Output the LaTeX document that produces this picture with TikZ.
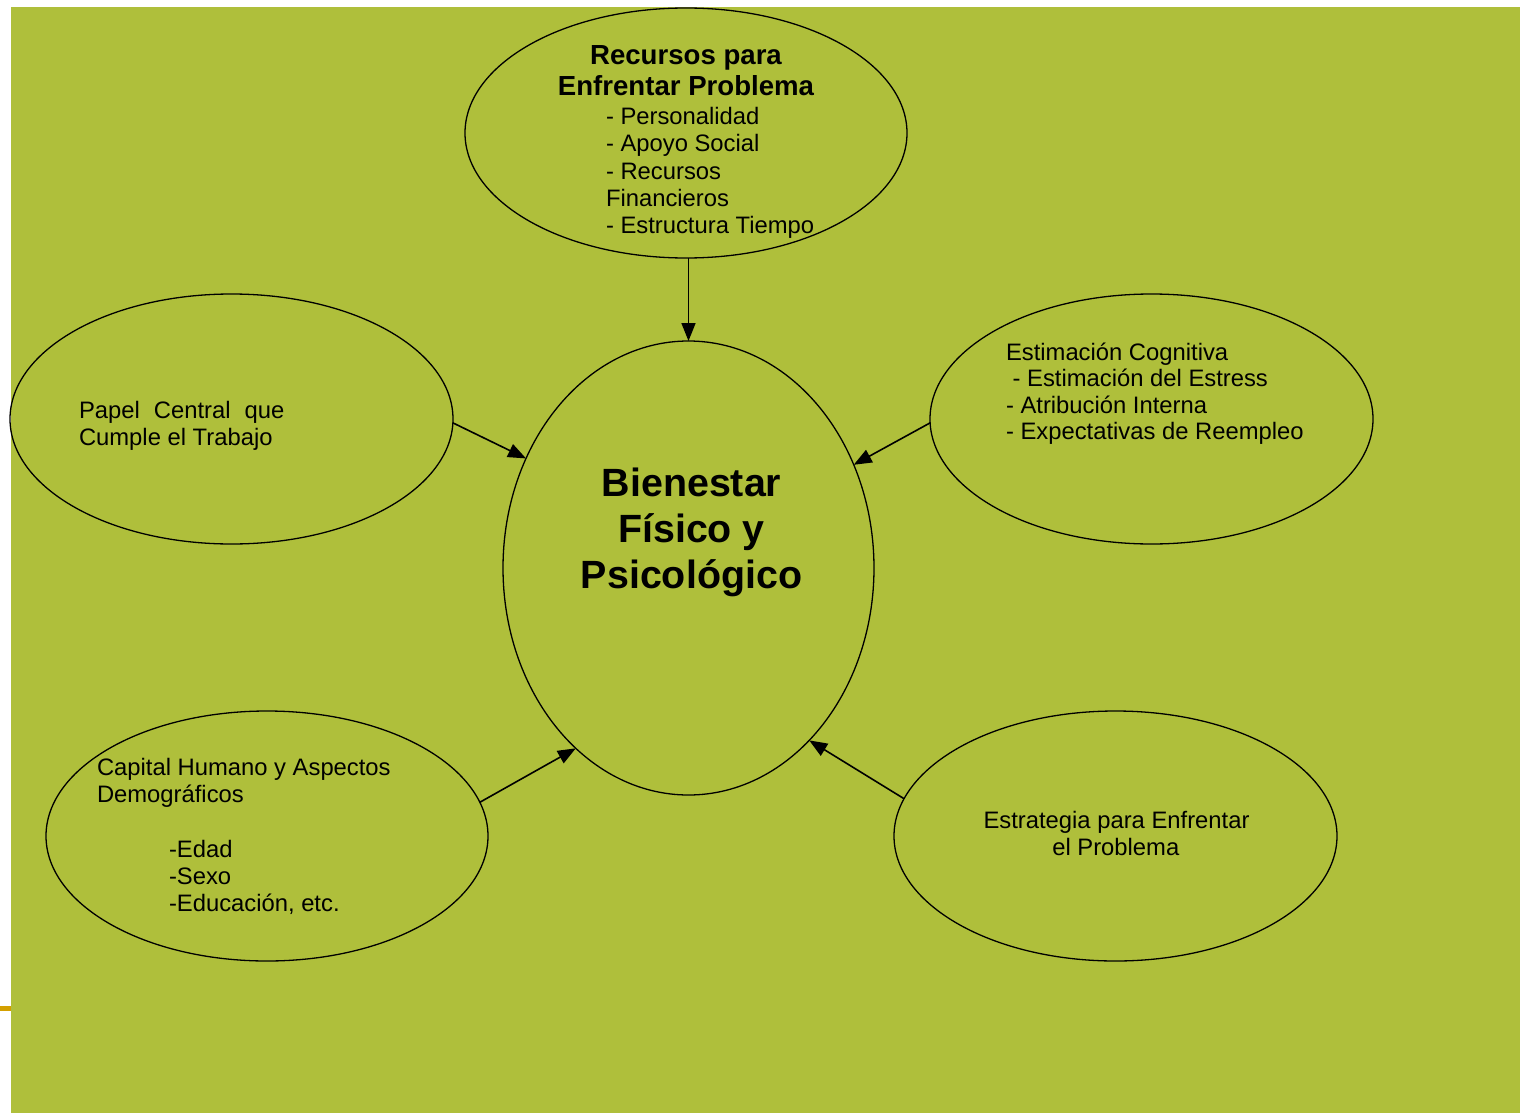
\documentclass[tikz,border=0pt]{standalone}
\usepackage{fontspec}
\setmainfont{Liberation Sans}
\usetikzlibrary{arrows.meta,shapes.geometric}
\definecolor{bggreen}{RGB}{175,191,59}
\definecolor{tickorange}{RGB}{212,160,0}
\tikzset{
  oval/.style={ellipse,draw=black,line width=1.3pt,inner sep=0pt,outer sep=0pt},
  txt/.style={inner sep=0pt,outer sep=0pt,anchor=base west,font=\fontsize{23.8}{27}\selectfont},
  txtc/.style={txt,anchor=base},
  btxt/.style={inner sep=0pt,outer sep=0pt,anchor=base,font=\fontsize{27.6}{32}\selectfont\bfseries},
  bigtxt/.style={inner sep=0pt,outer sep=0pt,anchor=base,font=\fontsize{39.4}{46}\selectfont\bfseries},
  arr/.style={line width=1.6pt,-{Triangle[length=18pt,width=14pt]}}
}
\begin{document}
\begin{tikzpicture}[x=1pt,y=-1pt]
\useasboundingbox (0,0) rectangle (1520,1113);
\fill[white] (0,0) rectangle (1520,1113);
\fill[bggreen] (11,7) rectangle (1520,1113);
\fill[tickorange] (0,1006) rectangle (11,1011);

% ellipses
\node[oval,minimum width=442pt,minimum height=250pt] (rec) at (686,133) {};
\node[oval,minimum width=371pt,minimum height=454pt] (bien) at (688.5,568) {};
\node[oval,minimum width=443pt,minimum height=250pt] (pap) at (231.5,419) {};
\node[oval,minimum width=443pt,minimum height=250pt] (est) at (1151.5,419) {};
\node[oval,minimum width=442pt,minimum height=250pt] (cap) at (267,836) {};
\node[oval,minimum width=443pt,minimum height=250pt] (estr) at (1115.5,836) {};

% top texts
\node[btxt] (r1) at (686,64.5) {Recursos para};
\node[btxt] (r2) at (686,96) {Enfrentar Problema};
\node[txt] (r3) at (606,124.5) {- Personalidad};
\node[txt] (r4) at (606,151.8) {- Apoyo Social};
\node[txt] (r5) at (606,179.1) {- Recursos};
\node[txt] (r6) at (606,206.4) {Financieros};
\node[txt] (r7) at (606,233.7) {- Estructura Tiempo};

% center texts
\node[bigtxt] (b1) at (691.5,496.5) {Bienestar};
\node[bigtxt] (b2) at (691.5,542) {Físico y};
\node[bigtxt] (b3) at (691.5,588) {Psicológico};

% left top
\node[txt] (p1) at (79,418) {Papel\hspace{14pt}Central\hspace{14pt}que};
\node[txt] (p2) at (79,445) {Cumple el Trabajo};

% right top
\node[txt] (e1) at (1006,360) {Estimación Cognitiva};
\node[txt] (e2) at (1006,386.6) {\ - Estimación del Estress};
\node[txt] (e3) at (1006,413.2) {- Atribución Interna};
\node[txt] (e4) at (1006,439.8) {- Expectativas de Reempleo};

% bottom left
\node[txt] (c1) at (97,775.7) {Capital Humano y Aspectos};
\node[txt] (c2) at (97,802.7) {Demográficos};
\node[txt] (c3) at (169,857.3) {-Edad};
\node[txt] (c4) at (169,884.3) {-Sexo};
\node[txt] (c5) at (169,911.5) {-Educación, etc.};

% bottom right
\node[txtc] (s1) at (1116.5,828.3) {Estrategia para Enfrentar};
\node[txtc] (s2) at (1115.8,855) {el Problema};

% arrows
\draw[arr] (rec.south -| bien.north) -- (bien.north);
\draw[arr] (pap.-1.6) -- (bien.146);
\draw[arr] (est.181.6) -- (bien.32.8);
\draw[arr] (cap.9.7) -- (bien.-122.9);
\draw[arr] (estr.170.3) -- (bien.-55.4);
\end{tikzpicture}
\end{document}
